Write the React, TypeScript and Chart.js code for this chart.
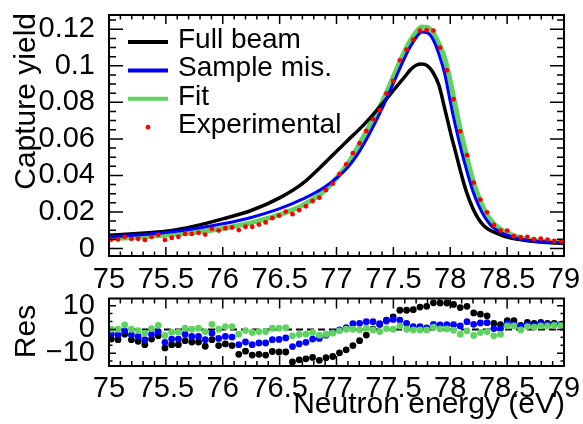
import React, { useEffect, useRef } from "react";
import { Chart, registerables } from "chart.js";

Chart.register(...registerables);

// ---------- data ----------
const energy = [
  75.02, 75.079, 75.138, 75.197, 75.256, 75.315, 75.374, 75.433, 75.492, 75.551,
  75.61, 75.669, 75.728, 75.787, 75.846, 75.905, 75.964, 76.023, 76.082, 76.141,
  76.2, 76.259, 76.318, 76.377, 76.436, 76.495, 76.554, 76.613, 76.672, 76.731,
  76.79, 76.849, 76.908, 76.967, 77.026, 77.085, 77.144, 77.203, 77.262, 77.321,
  77.38, 77.439, 77.498, 77.557, 77.616, 77.675, 77.734, 77.793, 77.852, 77.911,
  77.97, 78.029, 78.088, 78.147, 78.206, 78.265, 78.324, 78.383, 78.442, 78.501,
  78.56, 78.619, 78.678, 78.737, 78.796, 78.855, 78.914, 78.973,
];

const experimental = [
  0.0049, 0.0049, 0.0064, 0.0053, 0.0053, 0.0047, 0.0064, 0.0075, 0.0047, 0.0058,
  0.0064, 0.008, 0.008, 0.0086, 0.0076, 0.0107, 0.0098, 0.0111, 0.0115, 0.0101,
  0.0119, 0.0119, 0.0131, 0.0143, 0.0166, 0.018, 0.0202, 0.0188, 0.021, 0.0231,
  0.026, 0.0278, 0.032, 0.0355, 0.0407, 0.046, 0.0522, 0.0576, 0.0643, 0.0708,
  0.0757, 0.0848, 0.0917, 0.103, 0.1088, 0.1143, 0.1193, 0.1195, 0.1193, 0.1099,
  0.0975, 0.0817, 0.0641, 0.0511, 0.0361, 0.0267, 0.0198, 0.0129, 0.0098, 0.0098,
  0.0067, 0.0062, 0.0064, 0.0051, 0.0054, 0.0049, 0.0042, 0.004,
];

const resFull = [
  -4.07, -4.34, -2.0, -4.34, -5.03, -6.41, -4.07, -2.69, -7.78, -6.41,
  -6.41, -4.75, -5.3, -5.3, -7.1, -4.34, -6.82, -6.13, -6.82, -10.5,
  -9.16, -10.8, -10.5, -10.8, -9.3, -9.5, -9.5, -13.7, -12.8, -12.4,
  -11.8, -13.0, -11.9, -11.4, -9.85, -8.6, -6.8, -4.75, -2.4, 0.07,
  2.1, 3.9, 5.3, 8.05, 8.05, 8.3, 9.4, 9.7, 11.2, 11.1,
  11.1, 10.5, 9.2, 9.7, 6.95, 6.4, 5.7, 2.55, 2.0, 3.65,
  3.65, 1.72, 2.96, 2.55, 2.96, 2.55, 2.55, 2.13,
];

const resSample = [
  -2.0, -2.27, -0.62, -2.27, -2.96, -4.34, -2.0, -0.9, -5.44, -4.07,
  -4.07, -2.0, -2.96, -2.96, -4.34, -1.59, -3.79, -2.96, -3.24, -6.41,
  -5.3, -6.41, -5.72, -5.72, -4.34, -4.2, -3.6, -7.23, -6.13, -5.44,
  -4.07, -3.79, -2.41, -1.31, -0.21, 0.75, 2.41, 2.55, 3.23, 3.23,
  2.41, 3.51, 4.2, 3.92, 2.55, 1.17, 1.17, 0.6, 2.14, 1.86,
  2.0, 2.0, 1.45, 3.24, 2.14, 2.69, 2.83, 0.34, 0.34, 2.55,
  2.0, 1.45, 2.0, 1.72, 2.55, 2.14, 2.0, 2.0,
];

const resFit = [
  0.07, 0.07, 1.86, 0.07, -0.48, -1.59, 0.34, 1.72, -2.55, -1.17,
  -1.17, 0.48, 0.07, 0.48, -0.9, 2.13, 0.07, 1.17, 1.17, -2.0,
  -0.48, -1.31, -0.9, -0.9, 0.48, 0.48, 0.7, -2.69, -2.14, -2.0,
  -1.31, -2.41, -2.0, -1.59, -0.62, 0.07, 0.07, -0.21, 0.48, -0.21,
  -0.9, 0.34, 0.07, 1.44, 0.07, -0.21, -0.21, -0.21, 0.9, 0.21,
  0.21, -0.35, -2.0, -0.62, -2.55, -1.31, -0.9, -2.69, -2.0, 1.45,
  1.45, -0.21, 1.17, 0.9, 1.45, 1.45, 1.72, 1.72,
];

const curveE = [
  75.0, 75.25, 75.5, 75.75, 76.0, 76.25, 76.5, 76.7, 76.9, 77.1,
  77.2, 77.3, 77.4, 77.5, 77.6, 77.65, 77.7, 77.75, 77.8, 77.85,
  77.9, 77.95, 78.0, 78.05, 78.1, 78.15, 78.2, 78.25, 78.3, 78.35,
  78.4, 78.5, 78.6, 78.7, 78.8, 79.0,
];

const fullBeam = [
  0.0072, 0.0082, 0.0094, 0.0122, 0.0162, 0.0208, 0.0277, 0.0355, 0.047, 0.0593,
  0.0652, 0.0718, 0.079, 0.0865, 0.094, 0.0978, 0.1003, 0.101, 0.1, 0.0962,
  0.0895, 0.077, 0.064, 0.052, 0.04, 0.0296, 0.0218, 0.016, 0.0122, 0.01,
  0.0086, 0.0062, 0.005, 0.0041, 0.0035, 0.0027,
];

const sampleMis = [
  0.0064, 0.0074, 0.0088, 0.0108, 0.0135, 0.017, 0.0218, 0.027, 0.0338, 0.0445,
  0.053, 0.064, 0.0765, 0.0905, 0.1045, 0.1105, 0.1155, 0.1185, 0.118, 0.1143,
  0.1065, 0.096, 0.0805, 0.066, 0.053, 0.0415, 0.0312, 0.0235, 0.0175, 0.0132,
  0.0104, 0.0073, 0.0054, 0.0044, 0.0037, 0.0031,
];

const fitCurve = [
  0.0053, 0.0062, 0.0074, 0.0088, 0.011, 0.014, 0.0185, 0.0236, 0.032, 0.0465,
  0.057, 0.0685, 0.08, 0.094, 0.108, 0.1138, 0.1185, 0.1212, 0.121, 0.118,
  0.112, 0.1045, 0.0915, 0.0765, 0.062, 0.049, 0.0372, 0.0282, 0.0212, 0.016,
  0.0125, 0.0086, 0.0062, 0.0048, 0.004, 0.0034,
];

const xTicks = [75, 75.5, 76, 76.5, 77, 77.5, 78, 78.5, 79];
const xTickLabels = ["75", "75.5", "76", "76.5", "77", "77.5", "78", "78.5", "79"];
const yTicks = [0, 0.02, 0.04, 0.06, 0.08, 0.1, 0.12];
const yTickLabels = ["0", "0.02", "0.04", "0.06", "0.08", "0.1", "0.12"];
const resTicks = [-10, 0, 10];
const resTickLabels = ["\u221210", "0", "10"];
const legendLabels = ["Full beam", "Sample mis.", "Fit", "Experimental"];

// ---------- styles ----------
const FONT = "'Liberation Sans', Arial, Helvetica, sans-serif";
const GREEN = "#5fd35f";
const BLUE = "#0000ff";
const RED = "#ff0000";
const TICK_SIZE = 29;
const TITLE_SIZE = 30;
const LEGEND_SIZE = 28;

Chart.defaults.font.family = FONT;
Chart.defaults.color = "#000";

const pts = (xs: number[], ys: number[]) => xs.map((x, i) => ({ x, y: ys[i] }));

const labelFor = (ticks: number[], labels: string[]) => (v: any) => {
  const i = ticks.findIndex((t) => Math.abs(t - Number(v)) < 1e-9);
  return i >= 0 ? labels[i] : "";
};

function makeFrame(cfg: {
  xMinor: number;
  yMinor: number;
  yMajor: number[];
  xMaj: number;
  xMin: number;
  yMaj: number;
  yMin: number;
  zeroLine?: boolean;
}) {
  return {
    id: "frame",
    beforeDatasetsDraw(chart: any) {
      if (!cfg.zeroLine) return;
      const { ctx, chartArea: a, scales } = chart;
      const y = scales.y.getPixelForValue(0);
      ctx.save();
      ctx.setLineDash([7, 4]);
      ctx.lineWidth = 2;
      ctx.strokeStyle = "#000";
      ctx.beginPath();
      ctx.moveTo(a.left, y);
      ctx.lineTo(a.right, y);
      ctx.stroke();
      ctx.restore();
    },
    afterDatasetsDraw(chart: any) {
      const { ctx, chartArea: a, scales } = chart;
      const xs = scales.x;
      const ys = scales.y;
      ctx.save();
      ctx.strokeStyle = "#000";
      ctx.lineWidth = 1.5;
      ctx.beginPath();
      const kx0 = Math.ceil(xs.min / cfg.xMinor - 1e-6);
      const kx1 = Math.floor(xs.max / cfg.xMinor + 1e-6);
      for (let k = kx0; k <= kx1; k++) {
        const v = k * cfg.xMinor;
        const major = xTicks.some((t) => Math.abs(t - v) < 1e-6);
        const len = major ? cfg.xMaj : cfg.xMin;
        const px = xs.getPixelForValue(v);
        ctx.moveTo(px, a.bottom);
        ctx.lineTo(px, a.bottom - len);
        ctx.moveTo(px, a.top);
        ctx.lineTo(px, a.top + len);
      }
      const ky0 = Math.ceil(ys.min / cfg.yMinor - 1e-6);
      const ky1 = Math.floor(ys.max / cfg.yMinor + 1e-6);
      for (let k = ky0; k <= ky1; k++) {
        const v = k * cfg.yMinor;
        const major = cfg.yMajor.some((t) => Math.abs(t - v) < 1e-6);
        const len = major ? cfg.yMaj : cfg.yMin;
        const py = ys.getPixelForValue(v);
        ctx.moveTo(a.left, py);
        ctx.lineTo(a.left + len, py);
        ctx.moveTo(a.right, py);
        ctx.lineTo(a.right - len, py);
      }
      ctx.stroke();
      ctx.lineWidth = 2;
      ctx.strokeRect(a.left, a.top, a.right - a.left, a.bottom - a.top);
      ctx.restore();
    },
  };
}

function makeTitles(items: { text: string; x: number; y: number; rot: boolean; align: CanvasTextAlign }[]) {
  return {
    id: "titles",
    afterDraw(chart: any) {
      const ctx = chart.ctx;
      ctx.save();
      ctx.fillStyle = "#000";
      ctx.font = `${TITLE_SIZE}px ${FONT}`;
      ctx.textBaseline = "alphabetic";
      for (const it of items) {
        ctx.save();
        ctx.translate(it.x, it.y);
        if (it.rot) ctx.rotate(-Math.PI / 2);
        ctx.textAlign = it.align;
        ctx.fillText(it.text, 0, 0);
        ctx.restore();
      }
      ctx.restore();
    },
  };
}

const legendPlugin = {
  id: "customLegend",
  afterDraw(chart: any) {
    const ctx = chart.ctx;
    const colors = ["#000", BLUE, GREEN];
    ctx.save();
    ctx.font = `${LEGEND_SIZE}px ${FONT}`;
    ctx.fillStyle = "#000";
    ctx.textAlign = "left";
    ctx.textBaseline = "alphabetic";
    legendLabels.forEach((lab, k) => {
      const ly = 42 + 28.4 * k;
      if (k < 3) {
        ctx.strokeStyle = colors[k];
        ctx.lineWidth = 4;
        ctx.beginPath();
        ctx.moveTo(128, ly);
        ctx.lineTo(168, ly);
        ctx.stroke();
      } else {
        ctx.fillStyle = RED;
        ctx.beginPath();
        ctx.arc(148, ly, 2.4, 0, Math.PI * 2);
        ctx.fill();
        ctx.fillStyle = "#000";
      }
      ctx.fillText(lab, 178, ly + 6);
    });
    ctx.restore();
  },
};

export default function App() {
  const topRef = useRef<HTMLCanvasElement>(null);
  const botRef = useRef<HTMLCanvasElement>(null);

  useEffect(() => {
    const tickFont = { size: TICK_SIZE, family: FONT, lineHeight: 1 };
    const xScale = (height: number, pad: number) => ({
      type: "linear" as const,
      min: 75,
      max: 79,
      afterBuildTicks: (s: any) => {
        s.ticks = xTicks.map((value) => ({ value }));
      },
      afterFit: (s: any) => {
        s.height = height;
        s.paddingLeft = 0;
        s.paddingRight = 0;
      },
      ticks: {
        callback: labelFor(xTicks, xTickLabels),
        autoSkip: false,
        maxRotation: 0,
        minRotation: 0,
        padding: pad,
        color: "#000",
        font: tickFont,
      },
      grid: { display: false },
      border: { display: false },
    });

    const top = new Chart(topRef.current!, {
      type: "scatter",
      data: {
        datasets: [
          {
            label: legendLabels[0],
            data: pts(curveE, fullBeam),
            showLine: true,
            borderColor: "#000",
            borderWidth: 3.5,
            pointRadius: 0,
            cubicInterpolationMode: "monotone",
            order: 2,
          },
          {
            label: legendLabels[1],
            data: pts(curveE, sampleMis),
            showLine: true,
            borderColor: BLUE,
            borderWidth: 3,
            pointRadius: 0,
            cubicInterpolationMode: "monotone",
            order: 1,
          },
          {
            label: legendLabels[2],
            data: pts(curveE, fitCurve),
            showLine: true,
            borderColor: GREEN,
            borderWidth: 5,
            pointRadius: 0,
            cubicInterpolationMode: "monotone",
            order: 3,
          },
          {
            label: legendLabels[3],
            data: pts(energy, experimental),
            showLine: false,
            pointRadius: 2.4,
            pointBorderWidth: 0,
            pointBackgroundColor: RED,
            order: 0,
          },
        ],
      } as any,
      options: {
        responsive: false,
        animation: false,
        events: [],
        layout: { padding: { left: 0, right: 19, top: 15, bottom: 0 } },
        plugins: { legend: { display: false }, tooltip: { enabled: false } },
        scales: {
          x: xScale(34, 1.5),
          y: {
            type: "linear",
            min: -0.0041,
            max: 0.1278,
            afterBuildTicks: (s: any) => {
              s.ticks = yTicks.map((value) => ({ value }));
            },
            afterFit: (s: any) => {
              s.width = 109;
              s.paddingTop = 0;
              s.paddingBottom = 0;
            },
            ticks: {
              callback: labelFor(yTicks, yTickLabels),
              autoSkip: false,
              padding: 6,
              color: "#000",
              font: tickFont,
            },
            grid: { display: false },
            border: { display: false },
          },
        },
      } as any,
      plugins: [
        makeFrame({ xMinor: 0.1, yMinor: 0.005, yMajor: yTicks, xMaj: 9, xMin: 4.5, yMaj: 14, yMin: 7 }),
        makeTitles([{ text: "Capture yield", x: 35, y: 13, rot: true, align: "right" }]),
        legendPlugin,
      ],
    });

    const bottom = new Chart(botRef.current!, {
      type: "scatter",
      data: {
        datasets: [
          {
            label: "Full beam res",
            data: pts(energy, resFull),
            pointRadius: 3.4,
            pointBorderWidth: 0,
            pointBackgroundColor: "#000",
            order: 2,
          },
          {
            label: "Sample mis. res",
            data: pts(energy, resSample),
            pointRadius: 3.4,
            pointBorderWidth: 0,
            pointBackgroundColor: BLUE,
            order: 1,
          },
          {
            label: "Fit res",
            data: pts(energy, resFit),
            pointRadius: 3.4,
            pointBorderWidth: 0,
            pointBackgroundColor: GREEN,
            order: 0,
          },
        ],
      } as any,
      options: {
        responsive: false,
        animation: false,
        events: [],
        layout: { padding: { left: 0, right: 19, top: 8.5, bottom: 0 } },
        plugins: { legend: { display: false }, tooltip: { enabled: false } },
        scales: {
          x: xScale(58, 0.5),
          y: {
            type: "linear",
            min: -15.4,
            max: 13,
            afterBuildTicks: (s: any) => {
              s.ticks = resTicks.map((value) => ({ value }));
            },
            afterFit: (s: any) => {
              s.width = 109;
              s.paddingTop = 0;
              s.paddingBottom = 0;
            },
            ticks: {
              callback: labelFor(resTicks, resTickLabels),
              autoSkip: false,
              padding: 6,
              color: "#000",
              font: tickFont,
            },
            grid: { display: false },
            border: { display: false },
          },
        },
      } as any,
      plugins: [
        makeFrame({ xMinor: 0.1, yMinor: 10 / 3, yMajor: resTicks, xMaj: 10, xMin: 5, yMaj: 7, yMin: 3.5, zeroLine: true }),
        makeTitles([
          { text: "Res", x: 35, y: 41.5, rot: true, align: "center" },
          { text: "Neutron energy (eV)", x: 565, y: 123, rot: false, align: "right" },
        ]),
      ],
    });

    return () => {
      top.destroy();
      bottom.destroy();
    };
  }, []);

  return (
    <div style={{ position: "fixed", left: 0, top: 0, width: 583, height: 424, background: "#fff" }}>
      <canvas ref={topRef} width={583} height={290} style={{ position: "absolute", left: 0, top: 0 }} />
      <canvas ref={botRef} width={583} height={134} style={{ position: "absolute", left: 0, top: 290 }} />
    </div>
  );
}
